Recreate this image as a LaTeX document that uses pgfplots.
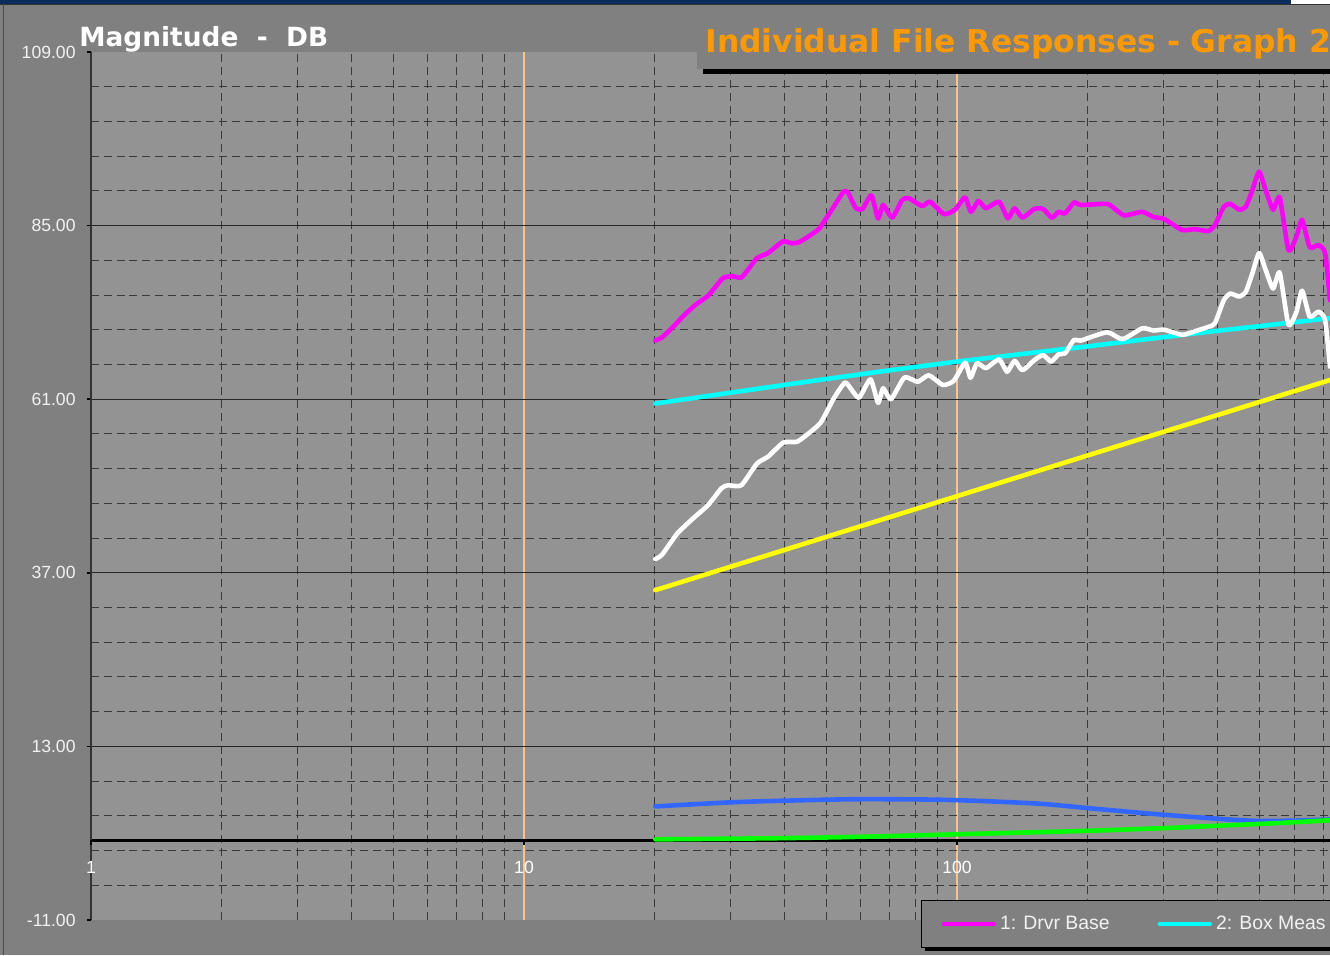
\documentclass[border=0pt]{standalone}
\usepackage{pgfplots}
\pgfplotsset{compat=1.18}
\usepackage{fontspec}
\setmainfont{Liberation Sans}
\newfontfamily\djv{DejaVu Sans}
\definecolor{outergray}{HTML}{808080}
\definecolor{plotgray}{HTML}{939393}
\definecolor{navy}{HTML}{0B2C5C}
\definecolor{gridorange}{HTML}{F8C390}
\definecolor{griddark}{HTML}{3A3A3A}
\definecolor{labelwhite}{HTML}{F2F2F2}
\definecolor{titleorange}{HTML}{FF9900}
\definecolor{cmag}{HTML}{FF00FF}
\definecolor{ccyan}{HTML}{00FFFF}
\definecolor{cyel}{HTML}{FFFF00}
\definecolor{cblue}{HTML}{3366FF}
\definecolor{cgreen}{HTML}{00FF00}

\pgfplotstableread{
f v
20.1 69.1
20.83 69.55
22.08 71.0
23.42 72.6
24.83 74.0
26.6 75.3
27.9 76.8
28.9 77.8
30.3 78.0
31.7 77.8
32.9 78.9
34.5 80.5
36.6 81.2
39.6 82.8
41.6 82.55
43.1 82.7
45.1 83.4
47.9 84.5
49.6 85.8
51.9 87.6
54.7 89.7
56.0 89.55
58.4 87.4
60.5 87.3
63.4 89.2
65.7 86.0
67.5 87.85
70.8 86.1
74.6 88.5
77.3 88.8
83.0 87.7
86.6 88.3
93.3 86.6
98.9 87.2
104.3 88.9
107.7 86.9
112.0 88.4
116.6 87.4
125.0 88.3
131.0 86.0
135.8 87.4
141.6 86.1
150.8 87.3
158.0 87.3
165.6 86.1
171.6 86.9
177.6 86.7
186.3 88.2
192.9 87.85
222.0 88.0
232.6 87.2
243.8 86.4
267.7 86.9
283.9 86.2
301.0 85.9
330.7 84.4
354.5 84.5
380.6 84.25
394.1 85.1
413.0 87.6
427.8 88.0
448.3 87.2
464.2 87.6
480.8 89.9
498.3 92.45
515.8 89.9
536.8 87.2
555.9 88.9
582.6 81.6
607.9 83.5
626.3 85.8
652.1 82.0
683.3 82.3
707.8 81.2
726.5 74.7
}\drvr

\pgfplotstableread{
f v
20.1 38.9
20.83 39.5
22.6 42.45
24.55 44.5
26.65 46.4
28.58 48.7
29.6 49.1
31.75 49.1
34.5 52.1
36.6 53.05
39.7 55.0
42.6 55.1
44.6 55.9
48.4 57.75
51.9 61.1
55.1 63.3
57.1 62.3
59.4 61.2
63.1 63.75
65.7 60.5
67.5 62.5
70.4 61.0
75.6 64.0
81.1 63.4
86.0 64.3
92.8 62.97
98.3 63.55
104.4 66.05
107.4 63.97
111.2 65.97
116.6 65.3
125.0 66.5
130.5 64.8
135.8 66.3
141.6 65.0
150.8 66.4
158.0 67.1
164.9 66.2
171.6 67.2
177.6 67.35
186.3 69.2
192.9 69.1
222.0 70.25
241.0 69.3
267.7 70.8
283.9 70.5
301.0 70.6
330.7 69.9
354.5 70.4
380.6 71.0
394.1 71.5
413.0 74.7
427.8 75.6
448.3 75.2
464.2 75.85
480.8 78.4
498.3 81.2
515.8 78.9
536.8 76.3
555.9 78.5
582.6 71.3
607.9 73.1
626.3 76.0
652.1 72.4
683.3 73.1
707.8 71.95
726.5 65.5
}\whitecurve

\pgfplotstableread{
f v
20.1 60.4
30 61.9
47.3 63.6
70 65.0
100 66.2
200 68.3
354 70.1
500 71.1
726.5 72.2
}\boxmeas

\pgfplotstableread{
f v
20.1 34.6
100 47.6
726.5 63.65
}\yellowline

\pgfplotstableread{
f v
20.1 4.7
29.6 5.25
40.2 5.5
59.8 5.7
95.5 5.6
152.6 5.1
202.1 4.45
308.1 3.5
492.3 2.7
726.5 2.9
}\bluecurve

\pgfplotstableread{
f v
20.1 0.15
37.4 0.3
60 0.5
100 0.85
192.9 1.3
300 1.7
389.5 2.0
550 2.4
726.5 2.8
}\greencurve

\begin{document}
\begin{tikzpicture}[x=1pt,y=1pt]
% page background and frame
\fill[outergray] (0,0) rectangle (665,477.5);
\fill[navy] (0,475.7) rectangle (665,477.5);
\fill[white] (645.5,475.5) rectangle (665,477.5);
\draw[black!80, line width=0.5pt] (0,475.3) -- (665,475.3);
\draw[black!70, line width=0.5pt] (1.5,0) -- (1.5,475.3);
% legend shadow
\fill[black] (462.5,2) rectangle (670,5);

\begin{axis}[
  at={(45.5pt,17.5pt)}, anchor=south west,
  scale only axis, width=619.5pt, height=434pt,
  xmode=log, xmin=1, xmax=726.5, ymin=-11, ymax=109,
  axis background/.style={fill=plotgray},
  axis x line=middle, axis y line=left,
  axis line style={-},
  x axis line style={black, line width=1.2pt},
  y axis line style={draw=black!80, line width=0.6pt},
  hide obscured x ticks=false,
  xtick={10,100}, xticklabels={10,100},
  extra x ticks={1}, extra x tick labels={1},
  extra x tick style={grid=none},
  minor xtick={2,3,4,5,6,7,8,9,20,30,40,50,60,70,80,90,200,300,400,500,600,700},
  ytick={13,37,61,85}, yticklabels={13.00,37.00,61.00,85.00},
  extra y ticks={-11,109}, extra y tick labels={-11.00,109.00},
  extra y tick style={grid=none},
  minor ytick={-6.2,-1.4,3.4,8.2,17.8,22.6,27.4,32.2,41.8,46.6,51.4,56.2,65.8,70.6,75.4,80.2,89.8,94.6,99.4,104.2},
  grid=both,
  major x grid style={draw=gridorange, line width=1pt, solid},
  minor x grid style={draw=griddark, line width=0.5pt, dash pattern=on 4pt off 2.4pt},
  major y grid style={draw=black!85, line width=0.5pt, solid},
  minor y grid style={draw=griddark, line width=0.5pt, dash pattern=on 4pt off 2.4pt},
  tick align=outside,
  major tick length=2.2pt, minor tick length=0pt,
  tick style={black, line width=0.8pt},
  yticklabel style={font=\fontsize{8.8}{10}\selectfont, text=labelwhite, xshift=-2pt},
  xticklabel style={font=\fontsize{8.8}{10}\selectfont, text=white, yshift=-4.5pt},
  legend columns=2,
  legend cell align=left,
  legend style={at={(0.6699,0.0230)}, anchor=north west,
    fill=outergray, draw=black, line width=0.6pt,
    text=labelwhite, font=\fontsize{9.7}{11}\selectfont,
    inner xsep=10pt, inner ysep=5.5pt,
    /tikz/every even column/.append style={column sep=22pt}},
  legend image code/.code={\draw[#1, line width=2.2pt, line cap=round] (0pt,0pt) -- (25pt,0pt);},
  every axis plot/.append style={line width=2.3pt, line join=round, line cap=round},
]
\addplot[cmag, no markers, smooth, tension=0.35] table[x=f, y=v] {\drvr};
\addlegendentry{1: Drvr Base}
\addplot[ccyan, no markers] table[x=f, y=v] {\boxmeas};
\addlegendentry{2: Box Meas}
\addplot[white, no markers, forget plot, smooth, tension=0.35] table[x=f, y=v] {\whitecurve};
\addplot[cyel, no markers, forget plot] table[x=f, y=v] {\yellowline};
\addplot[cblue, no markers, forget plot, smooth] table[x=f, y=v] {\bluecurve};
\addplot[cgreen, no markers, forget plot, smooth] table[x=f, y=v] {\greencurve};
\end{axis}

% title box
\fill[black] (351.5,440.5) rectangle (670,443.5);
\fill[outergray] (348.5,443) rectangle (670,472.5);
\node[anchor=base west, inner sep=0pt, text=titleorange, font={\djv\bfseries\fontsize{15.7}{18}\selectfont}] at (352.5,451) {Individual File Responses - Graph 2};
\node[anchor=base west, inner sep=0pt, text=white, font={\djv\bfseries\fontsize{13.2}{15}\selectfont}] at (39.5,454) {Magnitude\ \ -\ \ DB};

\pgfresetboundingbox
\path[use as bounding box] (0,0) rectangle (665,477.5);
\end{tikzpicture}
\end{document}
